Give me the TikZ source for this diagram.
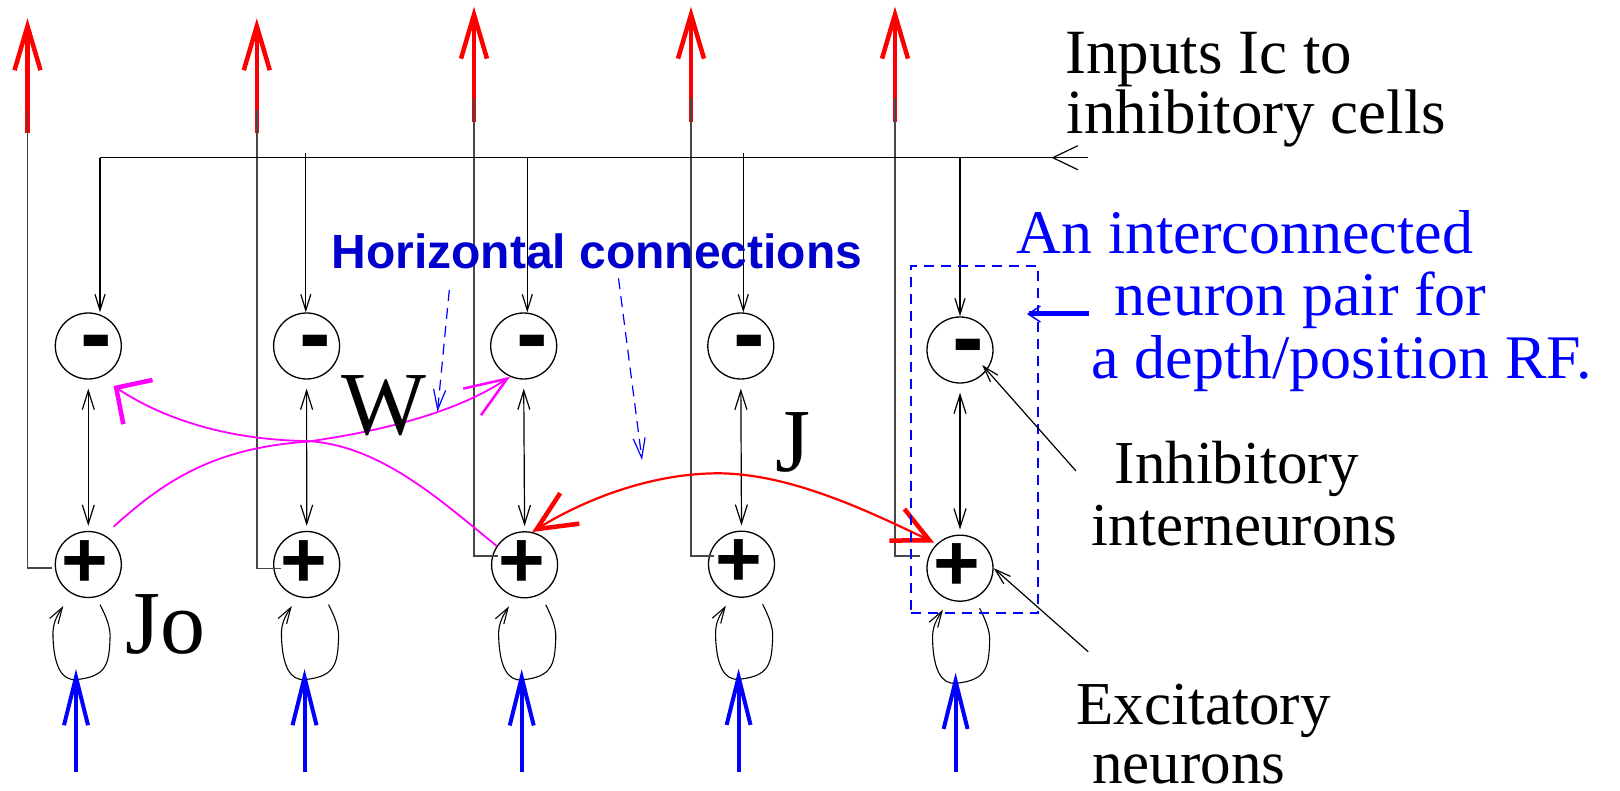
\documentclass[tikz,border=0pt]{standalone}
\usepackage{fontspec}
\setmainfont{Liberation Serif}
\setsansfont{Liberation Sans}
\usetikzlibrary{arrows.meta,calc}
\definecolor{hblue}{RGB}{0,0,204}
\definecolor{mag}{RGB}{255,0,255}
\begin{document}
\begin{tikzpicture}[x=1pt,y=-1pt,
  neuron/.style={circle,draw,line width=1.3pt,minimum size=66pt,inner sep=0pt},
  fbline/.style={draw=black!72,line width=1.6pt},
  thinline/.style={draw=black,line width=1.2pt},
  smallhead/.style={-{Straight Barb[length=16pt,width=10pt]}},
  dblhead/.style={{Straight Barb[length=19pt,width=12pt]}-{Straight Barb[length=19pt,width=12pt]}},
  outred/.style={draw=red,line width=4.5pt,-{Straight Barb[length=44pt,width=26pt]}},
  inblue/.style={draw=blue,line width=4pt,-{Straight Barb[length=48pt,width=24pt]}},
  hcdash/.style={draw=blue,line width=1.2pt,dash pattern=on 11pt off 7pt,-{Straight Barb[length=20pt,width=12pt]}},
  lbl/.style={inner sep=0pt,anchor=base west},
  big/.style={font=\fontsize{63}{63}\selectfont},
  mid/.style={font=\fontsize{61}{61}\selectfont},
  huge/.style={font=\fontsize{90}{90}\selectfont},
  plusg/.style={inner sep=0pt,anchor=base,font=\sffamily\bfseries\fontsize{80}{80}\selectfont},
  minusg/.style={inner sep=0pt,anchor=base,font=\sffamily\bfseries\fontsize{95}{95}\selectfont}
]
\useasboundingbox (0,0) rectangle (1620,791);

% neurons
\foreach \n/\x/\y in {1/88.3/346, 2/306.6/346, 3/523.7/346, 4/740.8/346, 5/960/350}
  \node[neuron] (i\n) at (\x,\y) {};
\foreach \n/\x/\y in {1/88.3/564.5, 2/306.7/564.5, 3/524.6/564.8, 4/741.5/564.2, 5/960/568.2}
  \node[neuron] (e\n) at (\x,\y) {};
\foreach \n in {1,...,5}{
  \node[minusg] (m\n) at ($(i\n)+(8.5,19.7)$) {-};
  \node[plusg] (p\n) at ($(e\n)+(-3,22.5)$) {+};
}

% outputs (red) and feedback lines
\foreach \n/\r/\t/\b/\k/\fy/\fe in {1/27.5/18.3/133.3/110/567.7/51.7, 2/256.8/18.3/133.3/110/568.3/281, 3/474/6.7/121.7/98/556/498, 4/691/6.7/121.7/98/556/714, 5/895/6.7/121.7/98/556/920}{
  \coordinate (ob\n) at (\r,\b);
  \coordinate (ot\n) at (\r,\t);
  \draw[outred] (ob\n) -- (ot\n);
  \coordinate (fk\n) at (\r,\k);
  \coordinate (fc\n) at (\r,\fy);
  \coordinate (fe\n) at (\fe,\fy);
  \draw[fbline] (fe\n) -- (fc\n) -- (fk\n);
}

% inputs Ic to inhibitory cells
\coordinate (icR) at (1088,157.7);
\coordinate (icT) at (1051.4,157.7);
\coordinate (icL) at (100,157.7);
\draw[thinline] (icR) -- (icL);
\draw[thinline,-{Straight Barb[length=25pt,width=24pt]}] (icR) -- (icT);
\foreach \n/\x/\s in {1/100/157.7, 2/305.8/153, 3/527.3/157.7, 4/743.3/153, 5/960/157.7}{
  \coordinate (dt\n) at (\x,\s);
  \draw[thinline,smallhead] (dt\n) -- (dt\n |- i\n.north);
}

% vertical two-way links
\foreach \n in {1,...,5}
  \draw[thinline,dblhead,shorten <=9pt,shorten >=5pt] (i\n.south) -- (e\n.north);

% self loops (Jo) and blue inputs
\foreach \n/\bx/\cy in {1/76/564.5, 2/304.5/564.5, 3/521.7/564.8, 4/738.6/564.2, 5/955.6/568.2}{
  \draw[thinline,line width=1.1pt,smallhead]
    ({\bx+24},{\cy+40}) .. controls ({\bx+30},{\cy+52}) and ({\bx+35},{\cy+63}) ..
    ({\bx+34},{\cy+75}) .. controls ({\bx+33},{\cy+100}) and ({\bx+30},{\cy+112}) ..
    ({\bx+1},{\cy+115}) .. controls ({\bx-15},{\cy+117}) and ({\bx-22},{\cy+100}) ..
    ({\bx-23},{\cy+73}) .. controls ({\bx-24},{\cy+58}) and ({\bx-18},{\cy+50}) ..
    ({\bx-12.7},{\cy+41.5});
  \coordinate (ib\n) at (\bx,772);
  \coordinate (it\n) at (\bx,{\cy+104.5});
  \draw[inblue] (ib\n) -- (it\n);
}

% W connections (magenta)
\draw[mag,line width=1.8pt,-{Straight Barb[length=42pt,width=32pt,line width=2.5pt]}]
  ($(e1)+(25.3,-37.8)$) .. controls (165,480) and (215,448) .. (307,441.7)
  .. controls (390,430) and (460,410) .. (i3.-114);
\draw[mag,line width=1.8pt,-{Straight Barb[length=26pt,width=53pt,line width=4.5pt]}]
  (e3.146) .. controls (440,500) and (380,445) .. (307,441)
  .. controls (230,440) and (165,420) .. ($(i1)+(25.3,40)$);

% J connection (red)
\draw[red,line width=2.2pt,{Straight Barb[length=39pt,width=36pt,line width=4.5pt]}-{Straight Barb[length=36pt,width=35pt,line width=4.5pt]}]
  (e3.77) .. controls (572,507) and (640,474) .. (716.7,473.3)
  .. controls (790,473) and (870,512) .. ($(e5)+(-26,-25.7)$);

% horizontal connections label and pointers
\node[lbl,font=\sffamily\bfseries\fontsize{48}{48}\selectfont,text=hblue] (hc) at (331.4,268.3) {Horizontal connections};
\coordinate (hc1s) at (449.3,290);
\coordinate (hc1t) at (437.5,411.7);
\coordinate (hc2s) at (618.5,278.3);
\coordinate (hc2t) at (642,460);
\draw[hcdash] (hc1s) -- (hc1t);
\draw[hcdash] (hc2s) -- (hc2t);

% neuron pair box
\node[draw=blue,dash pattern=on 10pt off 7pt,line width=1.2pt,minimum width=127pt,minimum height=347pt,inner sep=0pt] (pair) at (974.5,439.5) {};
\coordinate (bpS) at (1088.7,314);
\coordinate (bpT) at (1027,314);
\draw[blue,line width=5pt,-{Straight Barb[length=12pt,width=16pt,line width=1.5pt]}] (bpS) -- (bpT);

% annotation arrows
\coordinate (ann1) at (1076,471);
\coordinate (ann2) at (1088.2,651.7);
\draw[thinline,smallhead,shorten >=-7pt] (ann1) -- (i5.-37);
\draw[thinline,smallhead] (ann2) -- (e5.east);

% texts
\node[lbl,big] (t1) at (1065.2,74) {Inputs Ic to};
\node[lbl,big] (t2) at (1066.4,133.3) {inhibitory cells};
\node[lbl,font=\fontsize{62}{62}\selectfont,text=blue] (b1) at (1016.7,254) {An interconnected};
\node[lbl,font=\fontsize{62}{62}\selectfont,text=blue] (b2) at (1114.5,316) {neuron pair for};
\node[lbl,font=\fontsize{62}{62}\selectfont,text=blue] (b3) at (1091.7,378.3) {a depth/position RF.};
\node[lbl,mid] (t3) at (1114.5,483.3) {Inhibitory};
\node[lbl,mid] (t4) at (1091.7,545) {interneurons};
\node[lbl,mid] (t5) at (1076.4,724.3) {Excitatory};
\node[lbl,mid] (t6) at (1092,783.5) {neurons};
\node[lbl,huge] (jo) at (125,653.3) {Jo};
\node[lbl,huge] (w) at (341,435) {W};
\node[lbl,huge] (j) at (775.2,471.7) {J};
\end{tikzpicture}
\end{document}
